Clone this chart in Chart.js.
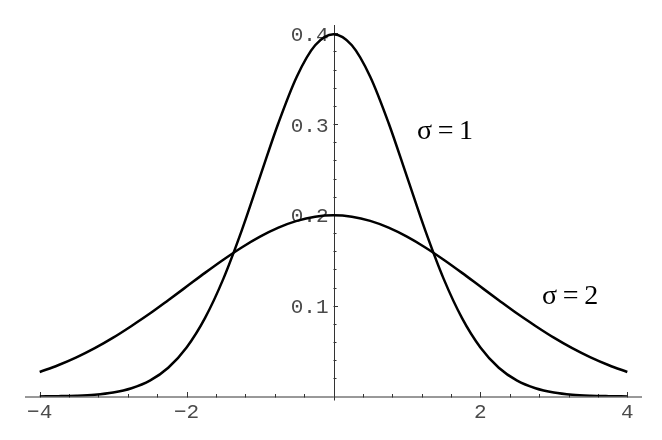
<!DOCTYPE html>
<html>
<head>
<meta charset="utf-8">
<script src="https://cdn.jsdelivr.net/npm/chart.js@4/dist/chart.umd.min.js"></script>
<style>
  html, body { margin: 0; padding: 0; background: #fff; }
  #wrap { width: 662px; height: 440px; position: relative; }
</style>
</head>
<body>
<div id="wrap"><canvas id="c" width="662" height="440"></canvas></div>
<script>
// ---- data ----
const xValues = [-4,-3.75,-3.5,-3.25,-3,-2.75,-2.5,-2.25,-2,-1.75,-1.5,-1.25,-1,-0.75,-0.5,-0.25,0,
                 0.25,0.5,0.75,1,1.25,1.5,1.75,2,2.25,2.5,2.75,3,3.25,3.5,3.75,4];
const sigma1 = [0.0001,0.0004,0.0009,0.0020,0.0044,0.0091,0.0175,0.0317,0.0540,0.0863,0.1295,0.1826,0.2420,0.3011,0.3521,0.3867,0.3989,
                0.3867,0.3521,0.3011,0.2420,0.1826,0.1295,0.0863,0.0540,0.0317,0.0175,0.0091,0.0044,0.0020,0.0009,0.0004,0.0001];
const sigma2 = [0.0270,0.0344,0.0431,0.0532,0.0648,0.0777,0.0913,0.1060,0.1210,0.1361,0.1506,0.1641,0.1760,0.1859,0.1933,0.1979,0.1995,
                0.1979,0.1933,0.1859,0.1760,0.1641,0.1506,0.1361,0.1210,0.1060,0.0913,0.0777,0.0648,0.0532,0.0431,0.0344,0.0270];
const xTickValues = [-4, -2, 2, 4];
const xTickLabels = ['\u22124', '\u22122', '2', '4'];
const yTickValues = [0.1, 0.2, 0.3, 0.4];
const yTickLabels = ['0.1', '0.2', '0.3', '0.4'];
const curveLabels = ['\u03c3\u2009=\u20091', '\u03c3\u2009=\u20092'];

const toPts = (ys) => xValues.map((x, i) => ({ x: x, y: ys[i] }));

const axesPlugin = {
  id: 'crossAxes',
  beforeDatasetsDraw(chart) {
    const ctx = chart.ctx;
    const xs = chart.scales.x, ys = chart.scales.y;
    const x0 = xs.getPixelForValue(0), y0 = ys.getPixelForValue(0);
    ctx.save();
    ctx.strokeStyle = '#333';
    ctx.lineWidth = 1;
    ctx.beginPath();
    ctx.moveTo(xs.left, y0 + 0.5); ctx.lineTo(xs.right, y0 + 0.5);
    ctx.moveTo(Math.round(x0) + 0.5, ys.top); ctx.lineTo(Math.round(x0) + 0.5, y0 + 4);
    ctx.stroke();
    ctx.beginPath();
    for (let k = -10; k <= 10; k++) {
      const v = k * 0.4;
      if (Math.abs(v) < 1e-9) continue;
      const px = Math.round(xs.getPixelForValue(v)) + 0.5;
      const major = xTickValues.some(t => Math.abs(t - v) < 1e-6);
      ctx.moveTo(px, y0 + 1); ctx.lineTo(px, y0 - (major ? 4.5 : 2.5));
    }
    for (let k = 1; k <= 20; k++) {
      const v = k * 0.02;
      const py = Math.round(ys.getPixelForValue(v)) + 0.5;
      const major = yTickValues.some(t => Math.abs(t - v) < 1e-6);
      ctx.moveTo(x0, py); ctx.lineTo(x0 + (major ? 4.5 : 3), py);
    }
    ctx.stroke();
    ctx.fillStyle = '#4a4a4a';
    ctx.font = '21px "Liberation Mono", "Courier New", monospace';
    ctx.textAlign = 'center';
    ctx.textBaseline = 'middle';
    xTickValues.forEach((v, i) => {
      ctx.fillText(xTickLabels[i], xs.getPixelForValue(v), y0 + 16);
    });
    ctx.textAlign = 'right';
    yTickValues.forEach((v, i) => {
      ctx.fillText(yTickLabels[i], x0 - 5, ys.getPixelForValue(v) + 2);
    });
    ctx.restore();
  },
  afterDatasetsDraw(chart) {
    const ctx = chart.ctx;
    const xs = chart.scales.x, ys = chart.scales.y;
    ctx.save();
    ctx.fillStyle = '#000';
    ctx.font = '28px "Liberation Serif", "Times New Roman", serif';
    ctx.textAlign = 'left';
    ctx.textBaseline = 'alphabetic';
    ctx.fillText(curveLabels[0], xs.getPixelForValue(1.137), ys.getPixelForValue(0.2835));
    ctx.fillText(curveLabels[1], xs.getPixelForValue(2.839), ys.getPixelForValue(0.1013));
    ctx.restore();
  }
};

new Chart(document.getElementById('c'), {
  type: 'line',
  data: {
    datasets: [
      { label: curveLabels[0], data: toPts(sigma1), borderColor: '#000', borderWidth: 2.5,
        pointRadius: 0, cubicInterpolationMode: 'monotone', fill: false },
      { label: curveLabels[1], data: toPts(sigma2), borderColor: '#000', borderWidth: 2.5,
        pointRadius: 0, cubicInterpolationMode: 'monotone', fill: false }
    ]
  },
  options: {
    responsive: false,
    animation: false,
    devicePixelRatio: 1,
    layout: { padding: { left: 25, right: 20, top: 25, bottom: 43.5 } },
    plugins: { legend: { display: false }, tooltip: { enabled: false } },
    scales: {
      x: { type: 'linear', min: -4.2, max: 4.2, display: false },
      y: { type: 'linear', min: 0, max: 0.409, display: false }
    }
  },
  plugins: [axesPlugin]
});
</script>
</body>
</html>
